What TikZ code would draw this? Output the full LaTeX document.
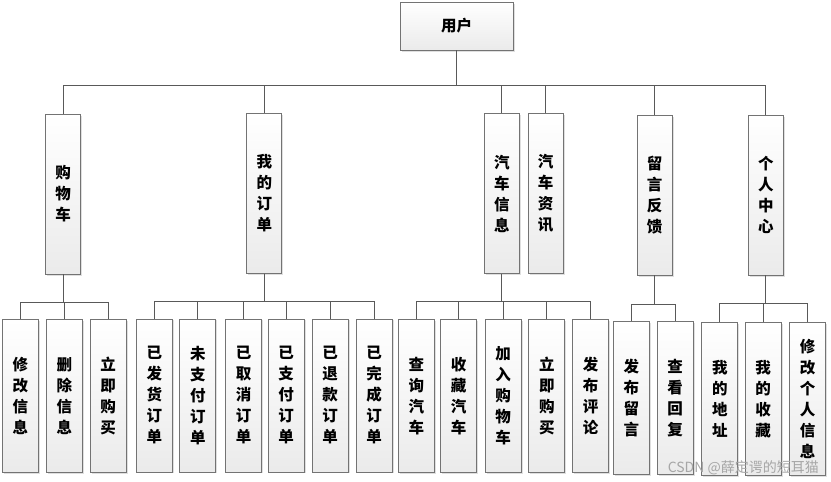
\documentclass[tikz,border=0pt]{standalone}
\usepackage{fontspec}
\setmainfont{Noto Sans CJK SC}
\usetikzlibrary{shadows}
\tikzset{
  modbox/.style={draw=black!55, line width=0.8pt, top color=white, bottom color=black!8,
    drop shadow={opacity=0.25, shadow xshift=1.5pt, shadow yshift=-1.5pt},
    inner sep=0pt, align=center, font=\fontsize{15.5}{21}\selectfont\bfseries},
  leafbox/.style={modbox, minimum width=36pt, minimum height=153pt},
  midbox/.style={modbox, minimum width=35pt, minimum height=160pt},
  link/.style={draw=black!65, line width=0.8pt}
}
\begin{document}
\begin{tikzpicture}[x=1pt, y=-1pt]
\useasboundingbox (0,0) rectangle (831,482);
% root
\node[modbox, minimum width=113pt, minimum height=48pt] (user) at (456.5,26) {用户};
% second level
\node[midbox] (cart) at (63,194) {购\\物\\车};
\node[midbox] (order) at (264.3,193.2) {我\\的\\订\\单};
\node[midbox] (carinfo) at (501.8,193.8) {汽\\车\\信\\息};
\node[midbox] (carnews) at (545.5,193) {汽\\车\\资\\讯};
\node[midbox] (feedback) at (654.5,195) {留\\言\\反\\馈};
\node[midbox] (center) at (765.8,195) {个\\人\\中\\心};
% leaves
\node[leafbox] (editinfo) at (20.3,395.9) {修\\改\\信\\息};
\node[leafbox] (delinfo) at (64.3,395.9) {删\\除\\信\\息};
\node[leafbox] (buynow) at (108.2,395.9) {立\\即\\购\\买};
\node[leafbox] (shipped) at (154.3,395.4) {已\\发\\货\\订\\单};
\node[leafbox] (unpaid) at (197.8,395.4) {未\\支\\付\\订\\单};
\node[leafbox] (cancelled) at (243.5,395.4) {已\\取\\消\\订\\单};
\node[leafbox] (paid) at (286.2,395.4) {已\\支\\付\\订\\单};
\node[leafbox] (refunded) at (330.2,395.4) {已\\退\\款\\订\\单};
\node[leafbox] (done) at (374.2,395.4) {已\\完\\成\\订\\单};
\node[leafbox] (query) at (416.3,395.9) {查\\询\\汽\\车};
\node[leafbox] (favcar) at (458.5,395.9) {收\\藏\\汽\\车};
\node[leafbox] (addcart) at (503,395.9) {加\\入\\购\\物\\车};
\node[leafbox] (buycar) at (546.8,395.9) {立\\即\\购\\买};
\node[leafbox] (review) at (590.7,395.9) {发\\布\\评\\论};
\node[leafbox] (postmsg) at (631.3,398) {发\\布\\留\\言};
\node[leafbox] (reply) at (675,398) {查\\看\\回\\复};
\node[leafbox] (address) at (719.8,399.2) {我\\的\\地\\址};
\node[leafbox] (myfav) at (763.2,399.2) {我\\的\\收\\藏};
\node[leafbox] (editme) at (807.7,398.5) {修\\改\\个\\人\\信\\息};
% connectors
\foreach \c in {cart,order,carinfo,carnews,feedback,center}
  \draw[link] (user.south) -- ++(0,35) -| (\c.north);
\foreach \c in {editinfo,delinfo,buynow}
  \draw[link] (cart.south) -- ++(0,27.7) -| (\c.north);
\foreach \c in {shipped,unpaid,cancelled,paid,refunded,done}
  \draw[link] (order.south) -- ++(0,27.5) -| (\c.north);
\foreach \c in {query,favcar,addcart,buycar,review}
  \draw[link] (carinfo.south) -- ++(0,27.2) -| (\c.north);
\foreach \c in {postmsg,reply}
  \draw[link] (feedback.south) -- ++(0,28.7) -| (\c.north);
\foreach \c in {address,myfav,editme}
  \draw[link] (center.south) -- ++(0,28.4) -| (\c.north);
% watermark
\node[text=black!35, font=\fontsize{14}{14}\selectfont, anchor=east, inner sep=0pt] (mark) at (819,467.5) {CSDN @薛定谔的短耳猫};
\end{tikzpicture}
\end{document}
